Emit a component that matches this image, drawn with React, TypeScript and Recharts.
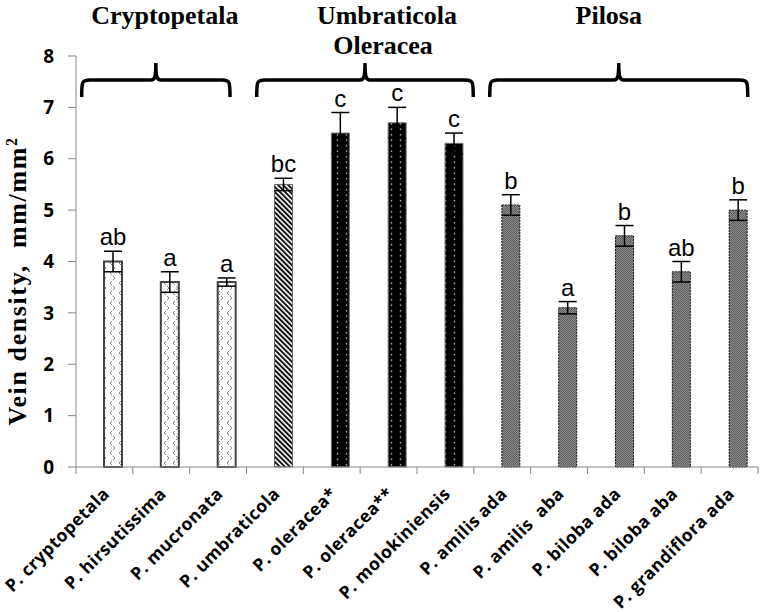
import React from "react";
import { BarChart, Bar, XAxis, YAxis, ErrorBar, Cell, LabelList } from "recharts";

const species = [
  "P. cryptopetala",
  "P. hirsutissima",
  "P. mucronata",
  "P. umbraticola",
  "P. oleracea*",
  "P. oleracea**",
  "P. molokiniensis",
  "P. amilis ada",
  "P. amilis  aba",
  "P. biloba ada",
  "P. biloba aba",
  "P. grandiflora ada",
];
const veinDensity = [4.0, 3.6, 3.6, 5.5, 6.5, 6.7, 6.3, 5.1, 3.1, 4.5, 3.8, 5.0];
const stdErr = [0.2, 0.2, 0.08, 0.12, 0.4, 0.3, 0.2, 0.2, 0.12, 0.2, 0.2, 0.2];
const letters = ["ab", "a", "a", "bc", "c", "c", "c", "b", "a", "b", "ab", "b"];
const clade = [
  "crypto", "crypto", "crypto",
  "umbra", "olera", "olera", "olera",
  "pilosa", "pilosa", "pilosa", "pilosa", "pilosa",
];
const yTicks = [0, 1, 2, 3, 4, 5, 6, 7, 8];
const groupTitles = [["Cryptopetala"], ["Umbraticola", "Oleracea"], ["Pilosa"]];

const data = species.map((name, i) => ({
  name,
  value: veinDensity[i],
  err: stdErr[i],
  sig: letters[i],
}));

// layout
const W = 760;
const H = 612;
const PLOT_LEFT = 76;
const PLOT_RIGHT = 758;
const PLOT_TOP = 56;
const PLOT_BOTTOM = 467;
const BAND = (PLOT_RIGHT - PLOT_LEFT) / species.length;
const PX_PER_UNIT = (PLOT_BOTTOM - PLOT_TOP) / 8;
const AXIS = "#878787";

// brace extents in category units, title offset in px
const BRACES = [
  { from: 0.1, to: 2.71, dx: 9 },
  { from: 3.18, to: 6.99, dx: 22 },
  { from: 7.28, to: 11.82, dx: -10 },
];

const fills: Record<string, { fill: string; stroke: string; dash?: string; sw: number }> = {
  crypto: { fill: "url(#chev)", stroke: "#444", sw: 2 },
  umbra: { fill: "url(#hatch)", stroke: "#666", sw: 1 },
  olera: { fill: "url(#dots)", stroke: "#777", sw: 1 },
  pilosa: { fill: "url(#grain)", stroke: "#111", dash: "2 1", sw: 1 },
};

const Patterns = () => (
  <svg width={0} height={0} style={{ position: "absolute" }}>
    <defs>
      <pattern id="chev" patternUnits="userSpaceOnUse" width={9} height={10}>
        <rect width={9} height={10} fill="#fff" />
        <path d="M4 1 L2 3 L4 5" stroke="#8a8a8a" strokeWidth={1} fill="none" />
        <path d="M5 6 L7 8 L5 10" stroke="#8a8a8a" strokeWidth={1} fill="none" />
      </pattern>
      <pattern id="hatch" patternUnits="userSpaceOnUse" width={3.6} height={3.6} patternTransform="rotate(-45)">
        <rect width={3.6} height={3.6} fill="#fff" />
        <rect width={2} height={3.6} fill="#111" />
      </pattern>
      <pattern id="dots" patternUnits="userSpaceOnUse" width={9} height={5.5}>
        <rect width={9} height={5.5} fill="#000" />
        <circle cx={4.5} cy={2.7} r={0.8} fill="#bbb" />
      </pattern>
      <pattern id="grain" patternUnits="userSpaceOnUse" width={2} height={2}>
        <rect width={2} height={2} fill="#8c8c8c" />
        <rect width={1} height={1} fill="#5e5e5e" />
        <rect x={1} y={1} width={1} height={1} fill="#5e5e5e" />
      </pattern>
    </defs>
  </svg>
);

const XTick = (props: any) => {
  const { x, payload, index } = props;
  const left = x - BAND / 2;
  const ax = PLOT_BOTTOM;
  const tx = x + 6;
  const ty = ax + 28;
  return (
    <g>
      <line x1={left} x2={left} y1={ax} y2={ax + 7} stroke={AXIS} />
      {index === species.length - 1 && (
        <line x1={x + BAND / 2} x2={x + BAND / 2} y1={ax} y2={ax + 7} stroke={AXIS} />
      )}
      <text
        x={tx}
        y={ty}
        transform={`rotate(-45, ${tx}, ${ty})`}
        textAnchor="end"
        fontFamily="'Open Sans', sans-serif"
        fontWeight={700}
        fontSize={17.5}
        letterSpacing={0.4}
        fill="#000"
        style={{ whiteSpace: "pre" }}
      >
        {payload.value}
      </text>
    </g>
  );
};

const SigLabel = (props: any) => {
  const { x, y, width, value, index } = props;
  const e = stdErr[index] ?? 0;
  return (
    <text
      x={x + width / 2}
      y={y - e * PX_PER_UNIT - 6}
      textAnchor="middle"
      fontFamily="'Liberation Sans', Arial, sans-serif"
      fontSize={24}
      fill="#000"
    >
      {value}
    </text>
  );
};

const Overlay = () => {
  const yh = 80;
  const yt = 63;
  const ye = 97;
  return (
    <svg width={W} height={H} style={{ position: "absolute", left: 0, top: 0, pointerEvents: "none" }}>
      {BRACES.map((b, i) => {
        const x1 = PLOT_LEFT + b.from * BAND;
        const x2 = PLOT_LEFT + b.to * BAND;
        const xm = (x1 + x2) / 2;
        const d = `M${x1},${ye} C${x1},${yh + 2} ${x1},${yh} ${x1 + 8},${yh} L${xm - 5},${yh} C${xm - 1},${yh} ${xm},${yh - 3} ${xm},${yt} C${xm},${yh - 3} ${xm + 1},${yh} ${xm + 5},${yh} L${x2 - 8},${yh} C${x2},${yh} ${x2},${yh + 2} ${x2},${ye}`;
        return (
          <g key={i}>
            <path d={d} stroke="#000" strokeWidth={3.5} fill="none" />
            {groupTitles[i].map((t, j) => (
              <text
                key={t}
                x={xm + b.dx - j * 4}
                y={24 + j * 30}
                textAnchor="middle"
                fontFamily="'Liberation Serif', 'Times New Roman', serif"
                fontWeight={700}
                fontSize={26}
                fill="#000"
              >
                {t}
              </text>
            ))}
          </g>
        );
      })}
      <text
        transform="translate(26, 281) rotate(-90)"
        textAnchor="middle"
        fontFamily="'Liberation Serif', 'Times New Roman', serif"
        fontWeight={700}
        fontSize={26}
        letterSpacing={1.6}
        fill="#000"
        style={{ whiteSpace: "pre" }}
      >
        {"Vein density,  mm/mm"}
        <tspan fontSize={16} dy={-9}>2</tspan>
      </text>
    </svg>
  );
};

export default function App() {
  return (
    <div style={{ position: "absolute", left: 0, top: 0, width: W, height: H, background: "#fff" }}>
      <Patterns />
      <BarChart
        width={W}
        height={H}
        data={data}
        margin={{ top: PLOT_TOP, right: W - PLOT_RIGHT, left: 0, bottom: 0 }}
        barGap={0}
      >
        <YAxis
          width={PLOT_LEFT}
          domain={[0, 8]}
          ticks={yTicks}
          interval={0}
          axisLine={{ stroke: AXIS }}
          tickLine={{ stroke: AXIS }}
          tickSize={8}
          tickMargin={14}
          tick={{ fill: "#000", fontSize: 19, fontWeight: 700, fontFamily: "'Open Sans', sans-serif" }}
        />
        <XAxis
          dataKey="name"
          height={H - PLOT_BOTTOM}
          interval={0}
          axisLine={{ stroke: AXIS }}
          tickLine={false}
          tickSize={7}
          tickMargin={0}
          tick={<XTick />}
        />
        <Bar dataKey="pad" barSize={18} isAnimationActive={false} />
        <Bar dataKey="value" barSize={18} isAnimationActive={false}>
          {data.map((d, i) => {
            const s = fills[clade[i]];
            return (
              <Cell
                key={d.name}
                fill={s.fill}
                stroke={s.stroke}
                strokeWidth={s.sw}
                strokeDasharray={s.dash}
              />
            );
          })}
          <ErrorBar dataKey="err" width={9} stroke="#000" strokeWidth={1.5} />
          <LabelList dataKey="sig" content={<SigLabel />} />
        </Bar>
      </BarChart>
      <Overlay />
    </div>
  );
}
